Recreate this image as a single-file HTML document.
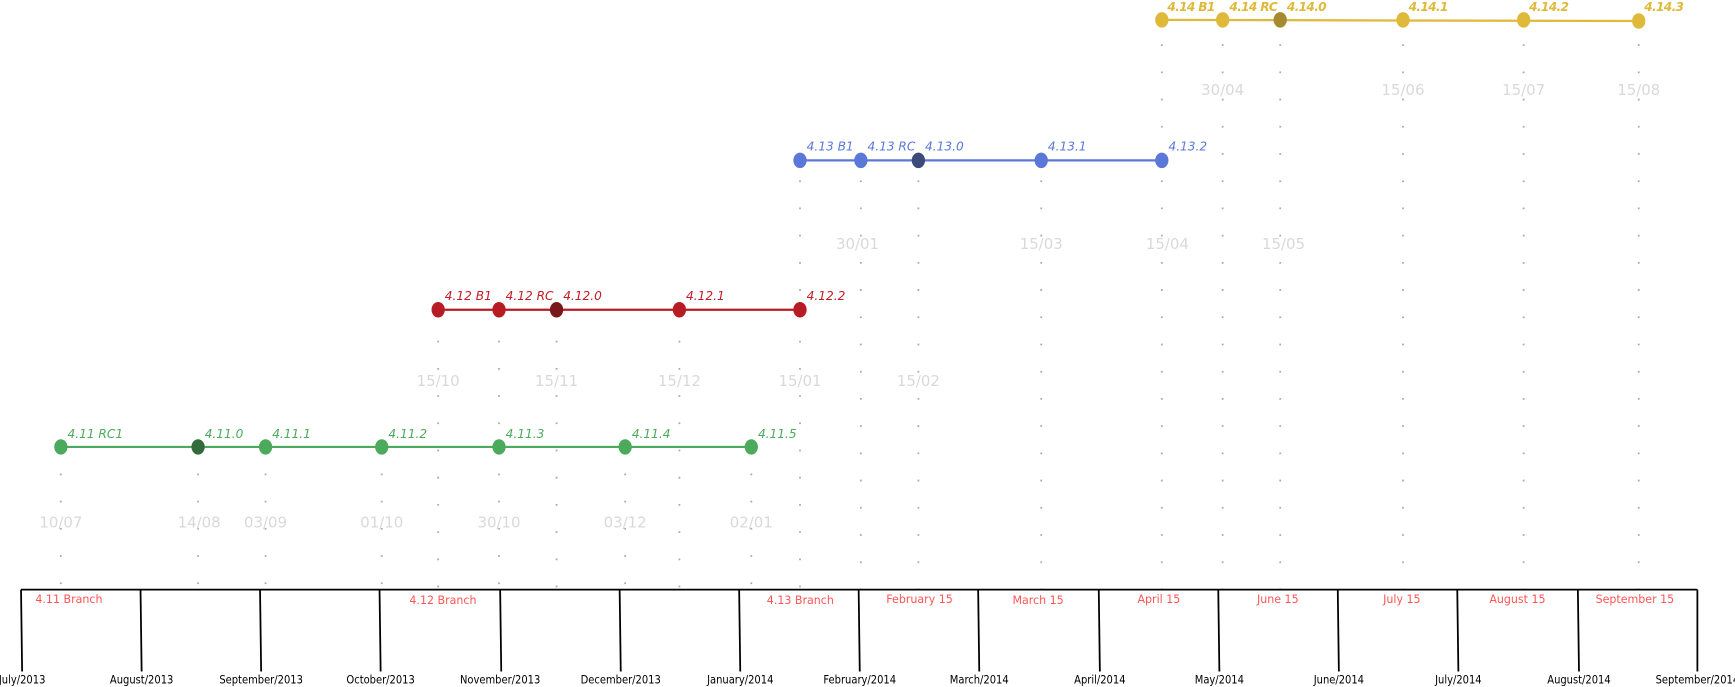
<!DOCTYPE html>
<html><head><meta charset="utf-8"><style>
html,body{margin:0;padding:0;background:#fff;}
svg{display:block;}
.pl{font-family:"DejaVu Sans","Liberation Sans",sans-serif;font-style:italic;font-size:11px;}
.dt{font-family:"DejaVu Sans","Liberation Sans",sans-serif;font-size:13.5px;fill:#d9d9d9;text-anchor:middle;}
.rd{font-family:"DejaVu Sans","Liberation Sans",sans-serif;font-size:10px;fill:#f55;}
.mo{font-family:"DejaVu Sans Condensed","Liberation Sans Narrow","Liberation Sans",sans-serif;font-size:10px;fill:#000;text-anchor:middle;}
</style></head><body>
<svg width="1735" height="687" viewBox="0 0 1568 621" preserveAspectRatio="none" xmlns="http://www.w3.org/2000/svg">
<g stroke="#aaa" stroke-width="1.6" stroke-dasharray="1.6 23">
<line x1="55" y1="428" x2="55" y2="533"/><line x1="179" y1="428" x2="179" y2="533"/><line x1="240" y1="428" x2="240" y2="533"/><line x1="345" y1="428" x2="345" y2="533"/><line x1="451" y1="428" x2="451" y2="533"/><line x1="565" y1="428" x2="565" y2="533"/><line x1="679" y1="428" x2="679" y2="533"/>
<line x1="396" y1="308" x2="396" y2="533"/><line x1="451" y1="308" x2="451" y2="400"/><line x1="503" y1="308" x2="503" y2="533"/><line x1="614" y1="308" x2="614" y2="533"/><line x1="723" y1="308" x2="723" y2="533"/>
<line x1="723" y1="163" x2="723" y2="280"/><line x1="778" y1="163" x2="778" y2="533"/><line x1="830" y1="163" x2="830" y2="533"/><line x1="941" y1="163" x2="941" y2="533"/><line x1="1050" y1="163" x2="1050" y2="533"/>
<line x1="1050" y1="40" x2="1050" y2="145"/><line x1="1105" y1="40" x2="1105" y2="533"/><line x1="1157" y1="40" x2="1157" y2="533"/><line x1="1268" y1="40" x2="1268" y2="533"/><line x1="1377" y1="40" x2="1377" y2="533"/><line x1="1481" y1="40" x2="1481" y2="533"/>
</g>
<g class="dt">
<text x="55" y="477">10/07</text><text x="180" y="477">14/08</text><text x="240" y="477">03/09</text><text x="345" y="477">01/10</text><text x="451" y="477">30/10</text><text x="565" y="477">03/12</text><text x="679" y="477">02/01</text>
<text x="396" y="349">15/10</text><text x="503" y="349">15/11</text><text x="614" y="349">15/12</text><text x="723" y="349">15/01</text><text x="830" y="349">15/02</text>
<text x="775" y="225">30/01</text><text x="941" y="225">15/03</text><text x="1055" y="225">15/04</text><text x="1160" y="225">15/05</text>
<text x="1105" y="86">30/04</text><text x="1268" y="86">15/06</text><text x="1377" y="86">15/07</text><text x="1481" y="86">15/08</text>
</g>
<line x1="55" y1="404" x2="679" y2="404" stroke="#4caa5c" stroke-width="2"/>
<g fill="#4caa5c"><ellipse cx="55" cy="404" rx="6" ry="7"/><ellipse cx="240" cy="404" rx="6" ry="7"/><ellipse cx="345" cy="404" rx="6" ry="7"/><ellipse cx="451" cy="404" rx="6" ry="7"/><ellipse cx="565" cy="404" rx="6" ry="7"/><ellipse cx="679" cy="404" rx="6" ry="7"/></g>
<ellipse cx="179" cy="404" rx="6" ry="7" fill="#346b3d"/>
<g class="pl" fill="#4caa5c"><text x="61" y="396">4.11 RC1</text><text x="185" y="396">4.11.0</text><text x="246" y="396">4.11.1</text><text x="351" y="396">4.11.2</text><text x="457" y="396">4.11.3</text><text x="571" y="396">4.11.4</text><text x="685" y="396">4.11.5</text></g>
<line x1="396" y1="280" x2="723" y2="280" stroke="#b71c24" stroke-width="2"/>
<g fill="#b71c24"><ellipse cx="396" cy="280" rx="6" ry="7"/><ellipse cx="451" cy="280" rx="6" ry="7"/><ellipse cx="614" cy="280" rx="6" ry="7"/><ellipse cx="723" cy="280" rx="6" ry="7"/></g>
<ellipse cx="503" cy="280" rx="6" ry="7" fill="#7a1519"/>
<g class="pl" fill="#c21c24"><text x="402" y="271">4.12 B1</text><text x="457" y="271">4.12 RC</text><text x="509" y="271">4.12.0</text><text x="620" y="271">4.12.1</text><text x="729" y="271">4.12.2</text></g>
<line x1="723" y1="145" x2="1050" y2="145" stroke="#5b78d8" stroke-width="2"/>
<g fill="#5b78d8"><ellipse cx="723" cy="145" rx="6" ry="7"/><ellipse cx="778" cy="145" rx="6" ry="7"/><ellipse cx="941" cy="145" rx="6" ry="7"/><ellipse cx="1050" cy="145" rx="6" ry="7"/></g>
<ellipse cx="830" cy="145" rx="6" ry="7" fill="#3d4b7a"/>
<g class="pl" fill="#5b78d8"><text x="729" y="136">4.13 B1</text><text x="784" y="136">4.13 RC</text><text x="836" y="136">4.13.0</text><text x="947" y="136">4.13.1</text><text x="1056" y="136">4.13.2</text></g>
<line x1="1050" y1="18" x2="1481" y2="19" stroke="#dfb93a" stroke-width="2"/>
<g fill="#dfb93a"><ellipse cx="1050" cy="18" rx="6" ry="7"/><ellipse cx="1105" cy="18" rx="6" ry="7"/><ellipse cx="1268" cy="18" rx="6" ry="7"/><ellipse cx="1377" cy="18" rx="6" ry="7"/><ellipse cx="1481" cy="19" rx="6" ry="7"/></g>
<ellipse cx="1157" cy="18" rx="6" ry="7" fill="#a68a30"/>
<g class="pl" fill="#dfb93a" font-weight="bold" letter-spacing="-0.6"><text x="1055" y="10">4.14 B1</text><text x="1111" y="10">4.14 RC</text><text x="1163" y="10">4.14.0</text><text x="1273" y="10">4.14.1</text><text x="1382" y="10">4.14.2</text><text x="1486" y="10">4.14.3</text></g>
<g stroke="#000" stroke-width="1.6">
<line x1="19" y1="533" x2="1534" y2="533"/>
<line x1="19" y1="533" x2="20" y2="607"/><line x1="127" y1="533" x2="128" y2="607"/><line x1="235" y1="533" x2="236" y2="607"/><line x1="343" y1="533" x2="344" y2="607"/><line x1="452" y1="533" x2="453" y2="607"/><line x1="560" y1="533" x2="561" y2="607"/><line x1="668" y1="533" x2="669" y2="607"/><line x1="776" y1="533" x2="777" y2="607"/><line x1="884" y1="533" x2="885" y2="607"/><line x1="993" y1="533" x2="994" y2="607"/><line x1="1101" y1="533" x2="1102" y2="607"/><line x1="1209" y1="533" x2="1210" y2="607"/><line x1="1317" y1="533" x2="1318" y2="607"/><line x1="1426" y1="533" x2="1427" y2="607"/><line x1="1534" y1="533" x2="1534" y2="607"/>
</g>
<g class="rd"><text x="32" y="545">4.11 Branch</text><text x="370" y="546">4.12 Branch</text><text x="693" y="546">4.13 Branch</text><text x="801" y="545">February 15</text><text x="915" y="546">March 15</text><text x="1028" y="545">April 15</text><text x="1136" y="545">June 15</text><text x="1250" y="545">July 15</text><text x="1346" y="545">August 15</text><text x="1442" y="545">September 15</text></g>
<g class="mo"><text x="20" y="618">July/2013</text><text x="128" y="618">August/2013</text><text x="236" y="618">September/2013</text><text x="344" y="618">October/2013</text><text x="452" y="618">November/2013</text><text x="561" y="618">December/2013</text><text x="669" y="618">January/2014</text><text x="777" y="618">February/2014</text><text x="885" y="618">March/2014</text><text x="994" y="618">April/2014</text><text x="1102" y="618">May/2014</text><text x="1210" y="618">June/2014</text><text x="1318" y="618">July/2014</text><text x="1427" y="618">August/2014</text><text x="1534" y="618">September/2014</text></g>
</svg>
</body></html>
